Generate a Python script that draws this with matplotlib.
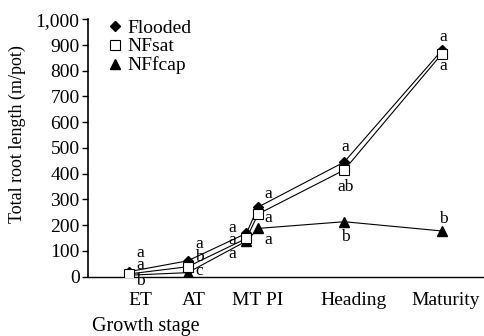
import matplotlib
matplotlib.use('Agg')
import matplotlib.pyplot as plt
from matplotlib.lines import Line2D
from matplotlib.ticker import FuncFormatter

plt.rcParams['font.family'] = 'Liberation Serif'
plt.rcParams['font.size'] = 14

# growth stage positions (days) and values
stage_x = [15, 30, 45, 48, 70, 95]
flooded = [19, 61, 168, 270, 445, 880]
nfsat = [10, 38, 148, 243, 414, 866]
nffcap = [5, 15, 138, 187, 213, 177]

tick_pos = [17.8, 31.6, 48, 72.3, 96]
tick_labels = ['ET', 'AT', 'MT PI', 'Heading', 'Maturity']

# significance letters: (x, y, letter)
let_x = [17.8, 17.8, 17.8, 32.9, 32.9, 32.9, 41.5, 41.5, 41.5,
         50.5, 50.5, 50.5, 70.3, 70.3, 70.3, 95.3, 95.3, 95.3]
let_y = [91, 45, -17, 126, 76, 21, 189, 142, 87,
         321, 227, 142, 503, 348, 154, 931, 818, 224]
let_s = ['a', 'a', 'b', 'a', 'b', 'c', 'a', 'a', 'a',
         'a', 'a', 'a', 'a', 'ab', 'b', 'a', 'a', 'b']

fig = plt.figure(figsize=(4.85, 3.36), dpi=100)
ax = fig.add_axes([88/485, 1-276.5/336, 397/485, 257.2/336])

ax.plot(stage_x, flooded, color='black', lw=0.8, marker='D', ms=5, mfc='black', mec='black', zorder=3)
ax.plot(stage_x, nfsat, color='black', lw=0.8, marker='s', ms=6.5, mfc='white', mec='black', mew=0.8, zorder=4)
ax.plot(stage_x, nffcap, color='black', lw=0.8, marker='^', ms=6.5, mfc='black', mec='black', zorder=3)

for x, y, s in zip(let_x, let_y, let_s):
    ax.text(x, y, s, ha='center', va='center', fontsize=12.5, clip_on=False)

ax.set_xlim(4.5, 106)
ax.set_ylim(0, 1000)
ax.set_yticks(range(0, 1001, 100))
ax.yaxis.set_major_formatter(FuncFormatter(lambda v, p: f'{int(v):,}'))
ax.set_xticks(tick_pos)
ax.set_xticklabels(tick_labels)
ax.tick_params(axis='x', length=0, pad=11, labelsize=14)
ax.tick_params(axis='y', direction='out', length=4, width=1, pad=2, labelsize=14)
ax.spines['top'].set_visible(False)
ax.spines['right'].set_visible(False)
ax.spines['left'].set_linewidth(1.2)
ax.spines['bottom'].set_linewidth(1.0)

handles = [
    Line2D([], [], ls='none', marker='D', ms=5, mfc='black', mec='black'),
    Line2D([], [], ls='none', marker='s', ms=6.5, mfc='white', mec='black', mew=0.8),
    Line2D([], [], ls='none', marker='^', ms=6.5, mfc='black', mec='black'),
]
ax.legend(handles, ['Flooded', 'NFsat', 'NFfcap'], loc='upper left',
          bbox_to_anchor=(0.044, 1.0), frameon=False, borderpad=0,
          borderaxespad=0, handlelength=1, handletextpad=0.12,
          labelspacing=0.05, fontsize=14)

fig.text(17/485, 1-134/336, 'Total root length (m/pot)', rotation=90,
         ha='center', va='center', fontsize=13)
fig.text(146/485, 1-331/336, 'Growth stage', ha='center', va='baseline', fontsize=14.5)

fig.savefig('out.png', dpi=100)
